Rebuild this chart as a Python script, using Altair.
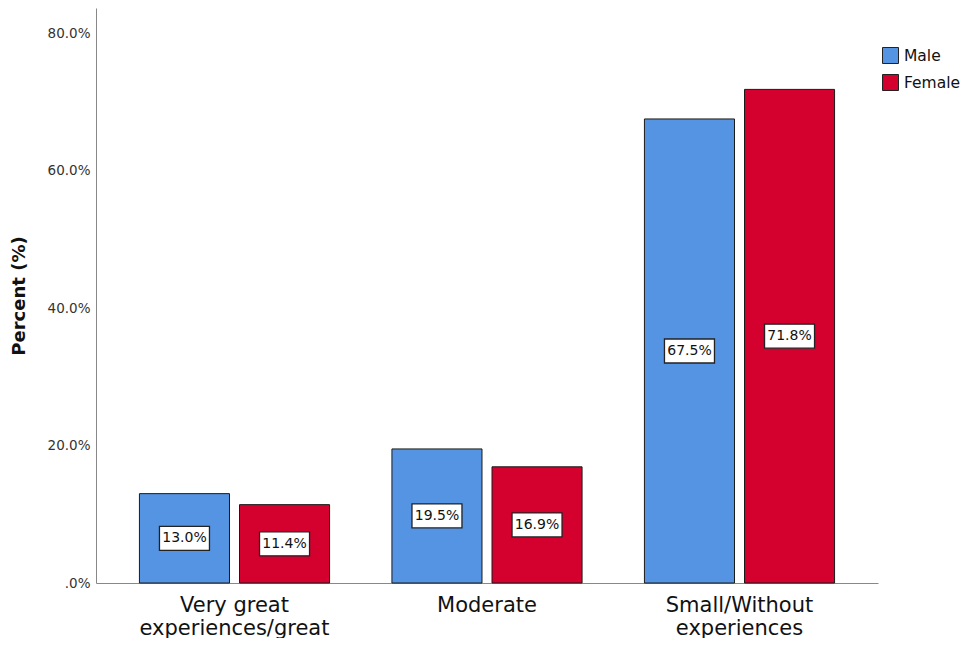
import altair as alt
import pandas as pd

categories = ["Very great|experiences/great", "Moderate", "Small/Without|experiences"]
genders = ["Male", "Female"]
male_pct = [13.0, 19.5, 67.5]
female_pct = [11.4, 16.9, 71.8]
colors = ["#5594E2", "#D4002E"]
y_ticks = [0, 20, 40, 60, 80]

rows = []
for i, c in enumerate(categories):
    rows.append({"cat": c, "gender": genders[0], "pct": male_pct[i]})
    rows.append({"cat": c, "gender": genders[1], "pct": female_pct[i]})
df = pd.DataFrame(rows)

FONT = "DejaVu Sans"
BOX = "M-1,-0.48L1,-0.48L1,0.48L-1,0.48Z"

x_enc = alt.X(
    "cat:N", sort=categories,
    scale=alt.Scale(paddingInner=0.247, paddingOuter=0.172),
    axis=alt.Axis(title=None, labelExpr="split(datum.label, '|')", labelAngle=0,
                  labelFontSize=21, labelColor="#111", labelPadding=11, ticks=False,
                  domainColor="#888", labelLineHeight=23, labelFont=FONT, labelLimit=400),
)
xoff = alt.XOffset("gender:N", sort=genders, scale=alt.Scale(paddingInner=0.1, paddingOuter=0))
y_enc = alt.Y(
    "pct:Q", scale=alt.Scale(domain=[0, 83.64], nice=False),
    axis=alt.Axis(title="Percent (%)", values=y_ticks,
                  labelExpr="datum.value == 0 ? '.0%' : format(datum.value, '.1f') + '%'",
                  grid=False, ticks=False, domainColor="#888", labelFontSize=13.5,
                  labelColor="#333", labelPadding=6, titleFontSize=18,
                  titleFontWeight="bold", titlePadding=19, labelFont=FONT, titleFont=FONT,
                  titleColor="#111"),
)

base = alt.Chart(df).transform_calculate(
    mid="datum.pct / 2",
    lab="format(datum.pct, '.1f') + '%'",
)

bars = base.mark_bar(stroke="#1a1a1a", strokeWidth=1).encode(
    x=x_enc, xOffset=xoff, y=y_enc,
    color=alt.Color("gender:N", sort=genders, scale=alt.Scale(domain=genders, range=colors),
                    legend=alt.Legend(title=None, orient="none", legendX=786, legendY=39,
                                      symbolType="square", symbolSize=256,
                                      symbolStrokeColor="#222", symbolStrokeWidth=1,
                                      labelFontSize=15.5, labelColor="#111", rowPadding=6,
                                      labelOffset=5, labelFont=FONT)),
)

boxes = base.mark_point(shape=BOX, size=2500, filled=True, fill="white", stroke="#222",
                        strokeWidth=1.3, opacity=1).encode(
    x=alt.X("cat:N", sort=categories), xOffset=alt.XOffset("gender:N", sort=genders),
    y=alt.Y("mid:Q"),
)

texts = base.mark_text(fontSize=14, color="#111", font=FONT).encode(
    x=alt.X("cat:N", sort=categories), xOffset=alt.XOffset("gender:N", sort=genders),
    y=alt.Y("mid:Q"), text="lab:N",
)

chart = alt.layer(bars, boxes, texts).properties(
    width=782, height=575,
    padding={"left": 88, "top": 0, "right": 83, "bottom": 55},
    autosize=alt.AutoSizeParams(type="none"),
).configure(font=FONT).configure_view(stroke=None)

chart.save("out.html", embed_options={"renderer": "svg", "actions": False})
